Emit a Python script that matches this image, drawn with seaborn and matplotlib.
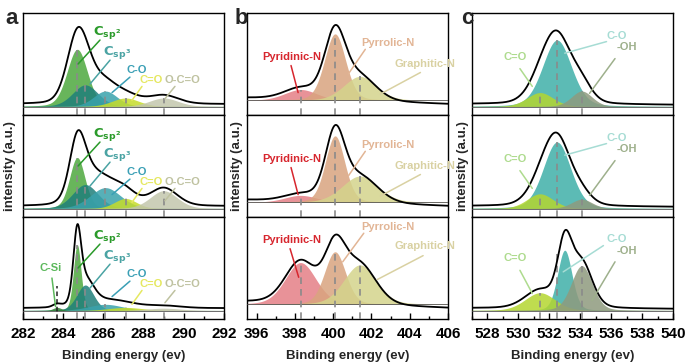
import numpy as np
import matplotlib
matplotlib.use('Agg')
import matplotlib.pyplot as plt
import seaborn as sns
from matplotlib.ticker import MultipleLocator

sns.set_theme(style='white')
plt.rcParams['font.family'] = ['Liberation Sans Narrow', 'Liberation Sans', 'DejaVu Sans']
plt.rcParams['mathtext.fontset'] = 'custom'
plt.rcParams['mathtext.rm'] = 'Liberation Sans Narrow'
plt.rcParams['mathtext.bf'] = 'Liberation Sans Narrow:bold'

# ---------------- data ----------------
# C 1s (panel a)
c1s_names = ['Csp2', 'Csp3', 'C-O', 'C=O', 'O-C=O']
c1s_centers = [284.7, 285.1, 286.1, 287.1, 289.0]
c1s_heights = [[0.74, 0.28, 0.20, 0.11, 0.11],
               [0.66, 0.31, 0.27, 0.13, 0.23],
               [0.85, 0.33, 0.08, 0.04, 0.03]]
c1s_fwhm = [[1.2, 1.5, 1.4, 1.6, 1.7],
            [0.9, 1.5, 1.8, 1.3, 1.6],
            [0.45, 1.0, 2.0, 2.0, 2.0]]
csi_center = 283.7
csi_height = 0.04
csi_fwhm = 0.5

# N 1s (panel b)
n1s_names = ['Pyridinic-N', 'Pyrrolic-N', 'Graphitic-N']
n1s_centers = [398.3, 400.1, 401.4]
n1s_heights = [[0.14, 0.86, 0.31],
               [0.09, 0.86, 0.34],
               [0.54, 0.68, 0.51]]
n1s_fwhm = [[2.0, 1.3, 2.0],
            [2.0, 1.2, 2.2],
            [1.9, 1.3, 2.0]]

# O 1s (panel c)
o1s_names = ['C=O', 'C-O', '-OH']
o1s_lines = [531.4, 532.5, 534.1]
o1s_centers = [[531.4, 532.5, 534.1],
               [531.4, 532.5, 534.1],
               [531.4, 533.0, 534.1]]
o1s_heights = [[0.18, 0.86, 0.20],
               [0.19, 0.86, 0.12],
               [0.23, 0.78, 0.58]]
o1s_fwhm = [[2.0, 2.2, 1.6],
            [2.0, 2.1, 1.6],
            [2.3, 1.1, 1.6]]

# ---------------- style ----------------
fills = {
    'a': ['#4ea83e', '#1f7f7a', '#3aa2ac', '#c6dc2a', '#c4c7ad'],
    'b': ['#e57f86', '#d9a47f', '#d4d48c'],
    'c': ['#b4d630', '#3fb0a8', '#8e9a7e'],
}
fill_z = {
    'a': [2, 2, 2, 2, 2],
    'b': [2, 2, 2],
    'c': [3, 2, 3],
}
labcol = {
    'a': ['#2a9a2a', '#4aa3a3', '#3a9fb5', '#e5e860', '#bfc2a0'],
    'b': ['#d7262e', '#e2b595', '#d9d1a2'],
    'c': ['#aedb8e', '#a6dcd4', '#9eb08c'],
}
a_texts = [r'$\mathbf{C_{sp^2}}$', r'$\mathbf{C_{sp^3}}$', 'C-O', 'C=O', 'O-C=O']

a_lab = [((286.18, 0.96), (285.83, 0.86), (284.74, 0.55)),
         ((286.68, 0.70), (286.33, 0.60), (285.33, 0.29)),
         ((287.67, 0.47), (287.32, 0.38), (286.43, 0.18)),
         ((288.37, 0.34), (287.92, 0.26), (287.42, 0.08)),
         ((289.91, 0.34), (289.56, 0.26), (289.06, 0.10))]
b_lab12 = [((397.86, 0.56), (397.8, 0.45), (398.17, 0.10)),
           ((402.88, 0.74), (401.68, 0.66), (400.79, 0.34)),
           ((404.82, 0.47), (404.56, 0.36), (402.46, 0.08))]
b_lab3 = [((397.86, 0.83), (397.75, 0.72), (398.2, 0.35)),
          ((402.88, 1.00), (401.6, 0.92), (400.5, 0.55)),
          ((404.82, 0.75), (404.7, 0.63), (402.3, 0.32))]
c_lab12 = [((529.78, 0.64), (530.1, 0.49), (530.9, 0.26)),
           ((536.38, 0.91), (535.7, 0.84), (533.0, 0.69)),
           ((537.0, 0.77), (536.25, 0.62), (534.6, 0.17))]
c_lab3 = [((529.78, 0.68), (530.1, 0.52), (530.9, 0.22)),
          ((536.38, 0.92), (535.5, 0.84), (532.9, 0.50)),
          ((537.0, 0.77), (536.25, 0.63), (534.76, 0.13))]


def pv(x, c, h, w, eta=0.2):
    u = ((x - c) / w) ** 2
    return h * ((1 - eta) * np.exp(-4 * np.log(2) * u) + eta / (1 + 4 * u))


W, H = 694, 364
fig = plt.figure(figsize=(W / 100, H / 100), dpi=100)

cols = {
    'a': dict(left=23, xlim=(282, 292), ylim=(-0.11, 1.21), bg=(0.03, 0.03)),
    'b': dict(left=247, xlim=(395.5, 406), ylim=(-0.19, 1.13), bg=(0.03, -0.05)),
    'c': dict(left=472, xlim=(527, 540), ylim=(-0.11, 1.21), bg=(0.03, 0.02)),
}
row_tops = [13, 115, 217]
row_h = 102
ax_w = 201

for key, cfg in cols.items():
    for r in range(3):
        ax = fig.add_axes([cfg['left'] / W, 1 - (row_tops[r] + row_h) / H, ax_w / W, row_h / H])
        x = np.linspace(cfg['xlim'][0], cfg['xlim'][1], 800)
        if key == 'a':
            centers, heights, widths = c1s_centers, c1s_heights[r], c1s_fwhm[r]
            lines = c1s_centers
        elif key == 'b':
            centers, heights, widths = n1s_centers, n1s_heights[r], n1s_fwhm[r]
            lines = n1s_centers
        else:
            centers, heights, widths = o1s_centers[r], o1s_heights[r], o1s_fwhm[r]
            lines = o1s_lines
        total = np.zeros_like(x)
        for i, (c, h, w) in enumerate(zip(centers, heights, widths)):
            y = pv(x, c, h, w)
            total += y
            ax.fill_between(x, 0, y, color=fills[key][i], alpha=0.85, lw=0,
                            zorder=fill_z[key][i])
        if key == 'a' and r == 2:
            y = pv(x, csi_center, csi_height, csi_fwhm)
            total += y
            ax.fill_between(x, 0, y, color='#2e7d32', alpha=0.85, lw=0, zorder=2)
            ax.vlines(csi_center, cfg['ylim'][0], 0.32, colors='#222222',
                      linestyles=(0, (3, 2)), lw=1.1, zorder=3.5)
        ax.plot(x, np.zeros_like(x), color='#555555', lw=0.6, zorder=3.2)
        bg = np.linspace(cfg['bg'][0], cfg['bg'][1], len(x))
        sns.lineplot(x=x, y=total + bg, ax=ax, color='black', lw=1.3, zorder=5)
        for lx, h in zip(lines, heights):
            ax.vlines(lx, cfg['ylim'][0], h, colors='#8a8a8a',
                      linestyles=(0, (4, 3)), lw=1.2, zorder=4)

        # labels
        if key == 'a':
            labs = a_lab
            texts = a_texts
        elif key == 'b':
            labs = b_lab12 if r < 2 else b_lab3
            texts = n1s_names
        else:
            labs = c_lab12 if r < 2 else c_lab3
            texts = o1s_names
        for i, ((tx, ty), p0, p1) in enumerate(labs):
            col = labcol[key][i]
            fs = 9.5 if (key == 'a' and i < 2) else 8
            ax.text(tx, ty, texts[i], color=col, fontsize=fs, fontweight='bold',
                    ha='center', va='center', zorder=6)
            ax.plot([p0[0], p1[0]], [p0[1], p1[1]], color=col, lw=1.1, zorder=6)
        if key == 'a' and r == 2:
            ax.text(283.39, 0.55, 'C-Si', color='#5cb85c', fontsize=8, fontweight='bold',
                    ha='center', va='center', zorder=6)
            ax.plot([283.44, 283.62], [0.42, 0.05], color='#5cb85c', lw=1.1, zorder=6)

        ax.set_xlim(*cfg['xlim'])
        ax.set_ylim(*cfg['ylim'])
        ax.set_yticks([])
        ax.set_ylabel('')
        for s in ax.spines.values():
            s.set_color('black')
            s.set_linewidth(1.0)
        if r == 2:
            ax.xaxis.set_major_locator(MultipleLocator(2))
            ax.xaxis.set_minor_locator(MultipleLocator(1))
            ax.tick_params(axis='x', which='both', direction='in', bottom=True,
                           labelsize=11, pad=6, colors='black', width=1.0)
            ax.tick_params(axis='x', which='major', length=4)
            ax.tick_params(axis='x', which='minor', length=2.5)
            for t in ax.get_xticklabels():
                t.set_fontweight('bold')
            ax.set_xlabel('Binding energy (ev)', fontsize=9.5, fontweight='bold', labelpad=6)
        else:
            ax.set_xticks([])
            ax.set_xlabel('')

# panel letters and y labels
for key, px in zip(['a', 'b', 'c'], [12, 241, 467]):
    fig.text(px / W, 1 - 18 / H, key, fontsize=16, fontweight='bold', ha='center', va='center')
for px in [10, 237, 463]:
    fig.text(px / W, 1 - 166 / H, 'intensity (a.u.)', rotation=90, fontsize=9.5,
             fontweight='bold', ha='center', va='center')

fig.savefig('out.png', dpi=100)
